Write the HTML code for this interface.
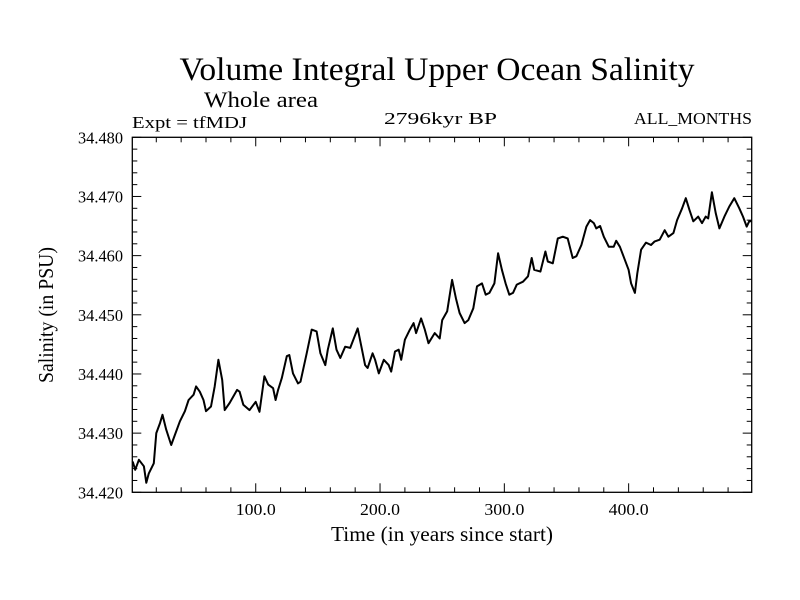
<!DOCTYPE html>
<html><head><meta charset="utf-8"><style>
html,body{margin:0;padding:0;background:#fff;}
svg{display:block;font-family:"Liberation Serif",serif;}
</style></head><body>
<svg id="chart" width="800" height="600" viewBox="0 0 800 600">
<text x="437" y="80" font-size="33" text-anchor="middle" textLength="515" lengthAdjust="spacingAndGlyphs">Volume Integral Upper Ocean Salinity</text>
<text x="204" y="107" font-size="22" textLength="114" lengthAdjust="spacingAndGlyphs">Whole area</text>
<text x="132" y="128" font-size="17" textLength="115" lengthAdjust="spacingAndGlyphs">Expt = tfMDJ</text>
<text x="384" y="124" font-size="17" textLength="113" lengthAdjust="spacingAndGlyphs">2796kyr BP</text>
<text x="752" y="124" font-size="17" text-anchor="end" textLength="118" lengthAdjust="spacingAndGlyphs">ALL_MONTHS</text>
<text x="442" y="541" font-size="21" text-anchor="middle" textLength="222" lengthAdjust="spacingAndGlyphs">Time (in years since start)</text>
<text transform="translate(53,315) rotate(-90)" font-size="21" text-anchor="middle" textLength="136" lengthAdjust="spacingAndGlyphs">Salinity (in PSU)</text>
<g id="axes"></g>
<path id="series" fill="none" stroke="#000" stroke-width="2" stroke-linejoin="round"></path>
</svg>
<script>
const years = [1,3,6,10,12,14,18,20,23,25,28,32,35,39,43,46,50,52,55,58,60,64,67,70,73,75,79,85,87,90,95,100,103,107,110,114,116,118,121,125,127,130,134,136,141,145,149,152,156,158,162,165,168,172,176,180,182,185,188,190,194,196,199,203,207,209,212,215,217,220,224,227,229,233,236,239,244,248,250,254,258,261,264,268,271,275,278,282,285,288,292,295,298,301,304,307,310,315,319,322,324,329,333,335,339,343,347,351,355,358,362,366,369,372,374,377,380,384,388,390,393,396,400,402,405,407,410,414,418,421,425,429,432,436,439,443,446,449,452,456,459,462,464,467,470,473,477,481,485,489,492,495,497,499];
const salinity = [34.4252,34.4238,34.4255,34.4244,34.4216,34.4232,34.4249,34.4300,34.4317,34.4331,34.4306,34.4280,34.4297,34.4320,34.4337,34.4356,34.4365,34.4379,34.4370,34.4356,34.4337,34.4345,34.4379,34.4424,34.4390,34.4339,34.4351,34.4373,34.4370,34.4348,34.4339,34.4353,34.4336,34.4396,34.4382,34.4376,34.4356,34.4373,34.4393,34.4430,34.4432,34.4401,34.4384,34.4387,34.4435,34.4475,34.4472,34.4435,34.4415,34.4441,34.4477,34.4441,34.4427,34.4446,34.4444,34.4466,34.4477,34.4446,34.4415,34.4410,34.4435,34.4424,34.4401,34.4424,34.4415,34.4404,34.4438,34.4441,34.4424,34.4458,34.4475,34.4486,34.4469,34.4494,34.4475,34.4452,34.4469,34.4460,34.4491,34.4506,34.4559,34.4528,34.4503,34.4486,34.4491,34.4511,34.4548,34.4553,34.4534,34.4537,34.4553,34.4604,34.4576,34.4553,34.4534,34.4537,34.4551,34.4556,34.4565,34.4596,34.4576,34.4573,34.4607,34.4590,34.4587,34.4629,34.4632,34.4629,34.4596,34.4599,34.4618,34.4649,34.4660,34.4655,34.4646,34.4650,34.4632,34.4615,34.4615,34.4625,34.4615,34.4598,34.4576,34.4553,34.4537,34.4570,34.4610,34.4622,34.4618,34.4624,34.4627,34.4643,34.4632,34.4638,34.4660,34.4680,34.4697,34.4677,34.4658,34.4666,34.4655,34.4666,34.4663,34.4707,34.4672,34.4646,34.4666,34.4683,34.4697,34.4680,34.4666,34.4649,34.4658,34.4658];
const xTicks = [100,200,300,400];
const xTickLabels = ["100.0","200.0","300.0","400.0"];
const yTicks = [34.42,34.43,34.44,34.45,34.46,34.47,34.48];
const yTickLabels = ["34.420","34.430","34.440","34.450","34.460","34.470","34.480"];

const L=132.3,R=751.7,T=137.3,B=492.3,X0=0.7,X1=499,Y0=34.42,Y1=34.48;
const xs=v=>L+(v-X0)/(X1-X0)*(R-L);
const ys=v=>B-(v-Y0)/(Y1-Y0)*(B-T);
const NS="http://www.w3.org/2000/svg";
const g=document.getElementById('axes');
function mk(tag,attrs){const e=document.createElementNS(NS,tag);for(const k in attrs)e.setAttribute(k,attrs[k]);g.appendChild(e);return e;}
const frame=mk('rect',{x:L,y:T,width:R-L,height:B-T,fill:'none',stroke:'#000','stroke-width':1.3});


for(let v=20;v<X1;v+=20){
  const major=v%100===0, len=major?9:5, x=xs(v);
  const t1=mk('line',{x1:x,x2:x,y1:B,y2:B-len,stroke:'#000','stroke-width':1});
  
  
  const t2=mk('line',{x1:x,x2:x,y1:T,y2:T+len,stroke:'#000','stroke-width':1});
  
  
}
for(let i=0;i<=30;i++){
  const v=Y0+i*0.002, major=i%5===0, len=major?9:5, y=ys(v);
  const t1=mk('line',{x1:L,x2:L+len,y1:y,y2:y,stroke:'#000','stroke-width':1});
  
  
  const t2=mk('line',{x1:R,x2:R-len,y1:y,y2:y,stroke:'#000','stroke-width':1});
  
  
}
xTicks.forEach((v,i)=>{
  const t=mk('text',{x:xs(v),y:515,'font-size':17,'text-anchor':'middle',textLength:40,lengthAdjust:'spacingAndGlyphs'});
  t.textContent=xTickLabels[i];
  
  
});
yTicks.forEach((v,i)=>{
  const t=mk('text',{x:123,y:ys(v)+6,'font-size':17,'text-anchor':'end',textLength:45,lengthAdjust:'spacingAndGlyphs'});
  t.textContent=yTickLabels[i];
  
  
});
document.getElementById('series').setAttribute('d',years.map((yr,i)=>(i?'L':'M')+xs(yr).toFixed(1)+' '+ys(salinity[i]).toFixed(1)).join(' '));
</script>
</body></html>
